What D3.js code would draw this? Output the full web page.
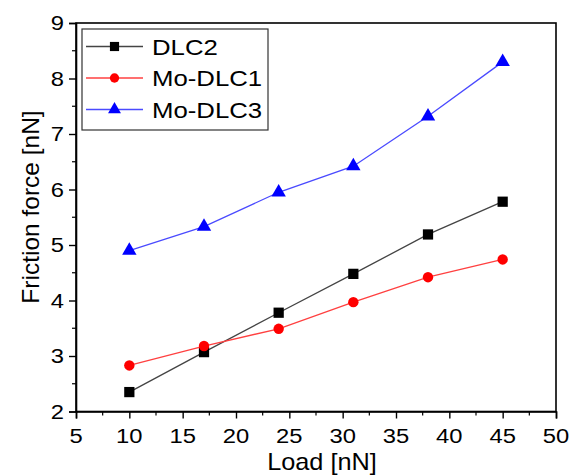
<!DOCTYPE html>
<html>
<head>
<meta charset="utf-8">
<script src="https://cdn.jsdelivr.net/npm/d3@7"></script>
<style>
  html, body { margin: 0; padding: 0; background: #fff; }
  svg { display: block; font-family: "Liberation Sans", Arial, sans-serif; }
</style>
</head>
<body>
<svg id="chart" width="569" height="475"></svg>
<script>
// Friction force versus applied load for three coatings
const loads = [10, 17, 24, 31, 38, 45];
const dlc2 = [2.35, 3.07, 3.78, 4.48, 5.19, 5.78];
const moDlc1 = [2.83, 3.18, 3.49, 3.97, 4.42, 4.74];
const moDlc3 = [4.90, 5.33, 5.95, 6.42, 7.32, 8.30];

const xTicks = [5, 10, 15, 20, 25, 30, 35, 40, 45, 50];
const yTicks = [2, 3, 4, 5, 6, 7, 8, 9];
const seriesNames = ["DLC2", "Mo-DLC1", "Mo-DLC3"];

const series = [
  { name: seriesNames[0], values: dlc2, color: "#000", line: "#444", symbol: d3.symbolSquare, size: 105 },
  { name: seriesNames[1], values: moDlc1, color: "#f00", line: "#ff4040", symbol: d3.symbolCircle, size: 85 },
  { name: seriesNames[2], values: moDlc3, color: "#00f", line: "#4a4aff", symbol: d3.symbolTriangle, size: 90 }
];

const svg = d3.select("#chart");
const m = { left: 76, right: 556, top: 23, bottom: 411.5 };

const x = d3.scaleLinear().domain([5, 50]).range([m.left, m.right]);
const y = d3.scaleLinear().domain([2, 9]).range([m.bottom, m.top]);

// text with a slightly widened face
function wideText(g, px, py, str, size, sx, anchor) {
  return g.append("text")
    .attr("transform", `translate(${px},${py}) scale(${sx},1)`)
    .attr("text-anchor", anchor || "start")
    .attr("font-size", size).attr("fill", "#000")
    .text(str);
}

// plot frame
svg.append("rect")
  .attr("x", m.left).attr("y", m.top)
  .attr("width", m.right - m.left).attr("height", m.bottom - m.top)
  .attr("fill", "none").attr("stroke", "#000").attr("stroke-width", 1.6);

// axes: major ticks from d3, labels drawn separately
const xAxis = d3.axisBottom(x).tickValues(xTicks).tickSize(7).tickFormat("");
const yAxis = d3.axisLeft(y).tickValues(yTicks).tickSize(7).tickFormat("");

const gx = svg.append("g").attr("transform", `translate(0,${m.bottom})`).call(xAxis);
const gy = svg.append("g").attr("transform", `translate(${m.left},0)`).call(yAxis);

[gx, gy].forEach(g => {
  g.select(".domain").attr("stroke", "#000").attr("stroke-width", 1.6);
  g.selectAll(".tick line").attr("stroke", "#000").attr("stroke-width", 1.4);
});

const fmt = d3.format("d");
const labels = svg.append("g");
xTicks.forEach(t => wideText(labels, x(t), 442.5, fmt(t), 20.5, 1.16, "middle"));
yTicks.forEach(t => wideText(labels, 64, y(t) + 7.3, fmt(t), 20.5, 1.16, "end"));

// minor ticks
const xMinor = d3.range(7.5, 50, 5);
const yMinor = d3.range(2.5, 9, 1);
svg.append("g").selectAll("line").data(xMinor).join("line")
  .attr("x1", d => x(d)).attr("x2", d => x(d))
  .attr("y1", m.bottom).attr("y2", m.bottom + 4)
  .attr("stroke", "#000").attr("stroke-width", 1.2);
svg.append("g").selectAll("line").data(yMinor).join("line")
  .attr("y1", d => y(d)).attr("y2", d => y(d))
  .attr("x1", m.left).attr("x2", m.left - 4)
  .attr("stroke", "#000").attr("stroke-width", 1.2);

// axis titles
wideText(svg, 322, 470, "Load [nN]", 23, 1.1, "middle");
svg.append("text")
  .attr("transform", `translate(39,207) rotate(-90)`)
  .attr("text-anchor", "middle").attr("font-size", 24.5).attr("fill", "#000")
  .text("Friction force [nN]");

// series lines and markers
const line = d3.line().x((d, i) => x(loads[i])).y(d => y(d));
series.forEach(s => {
  svg.append("path").datum(s.values)
    .attr("d", line).attr("fill", "none")
    .attr("stroke", s.line).attr("stroke-width", 1.3);
  svg.append("g").selectAll("path").data(s.values).join("path")
    .attr("transform", (d, i) => `translate(${x(loads[i])},${y(d)})`)
    .attr("d", d3.symbol(s.symbol, s.size))
    .attr("fill", s.color);
});

// legend
const lg = svg.append("g");
lg.append("rect")
  .attr("x", 82).attr("y", 29).attr("width", 186).attr("height", 101)
  .attr("fill", "#fff").attr("stroke", "#333").attr("stroke-width", 1.2);
series.forEach((s, i) => {
  const cy = 46.5 + i * 31.5;
  lg.append("line").attr("x1", 86).attr("x2", 143).attr("y1", cy).attr("y2", cy)
    .attr("stroke", s.line).attr("stroke-width", 1.3);
  lg.append("path").attr("transform", `translate(114.5,${cy})`)
    .attr("d", d3.symbol(s.symbol, s.size * 0.8)).attr("fill", s.color);
  wideText(lg, 152, cy + 8.3, s.name, 23, 1.12, "start");
});
</script>
</body>
</html>
